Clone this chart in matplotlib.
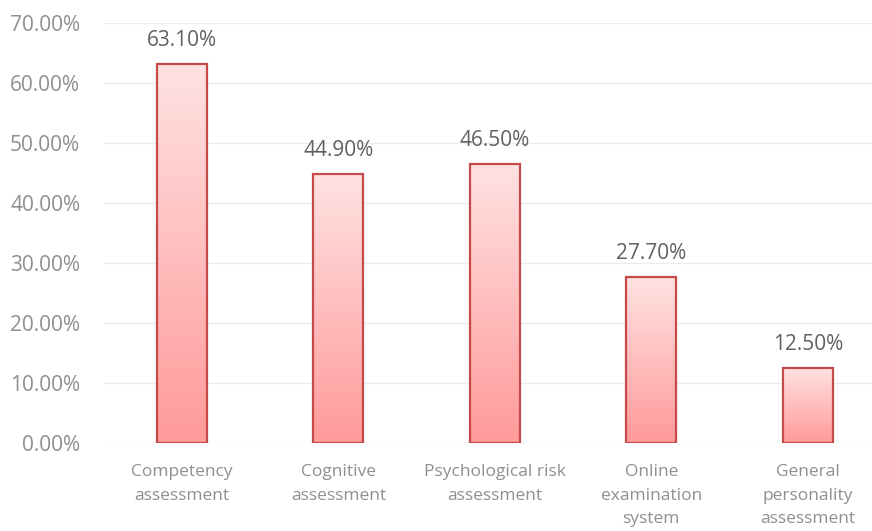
import matplotlib.pyplot as plt
import numpy as np
from matplotlib.colors import LinearSegmentedColormap

categories = ["Competency\nassessment", "Cognitive\nassessment",
              "Psychological risk\nassessment", "Online\nexamination\nsystem",
              "General\npersonality\nassessment"]
values = [63.10, 44.90, 46.50, 27.70, 12.50]
yticks = [0, 10, 20, 30, 40, 50, 60, 70]

plt.rcParams["font.family"] = ["Open Sans", "DejaVu Sans"]

fig = plt.figure(figsize=(8.72, 5.31), dpi=100)
ax = fig.add_axes([0.119, 0.1657, 0.897, 0.791])

cmap = LinearSegmentedColormap.from_list("pinkgrad", ["#ff9a9a", "#ffe2e2"])
grad = np.linspace(0, 1, 256).reshape(-1, 1)
width = 0.32
x = np.arange(len(values))

for xi, v in zip(x, values):
    ax.imshow(grad, extent=[xi - width / 2, xi + width / 2, 0, v], origin="lower",
              aspect="auto", cmap=cmap, zorder=2)
    ax.bar(xi, v, width=width, facecolor="none", edgecolor="#c64a4a",
           linewidth=1.6, zorder=3)
    ax.text(xi, v + 3.0, f"{v:.2f}%", ha="center", va="baseline",
            fontsize=15, color="#606060")

ax.set_xlim(-0.5, len(values) - 0.5)
ax.set_ylim(0, 70)
ax.set_yticks(yticks)
ax.set_yticklabels([f"{t:.2f}%" for t in yticks], fontsize=15)
ax.set_xticks(x)
ax.set_xticklabels(categories, linespacing=1.65, fontsize=12.5)
ax.tick_params(axis="both", length=0, labelcolor="#8f8f8f")
ax.tick_params(axis="x", pad=15)
ax.tick_params(axis="y", pad=17)
ax.grid(axis="y", color="#ececec", linewidth=1)
ax.set_axisbelow(True)
for s in ax.spines.values():
    s.set_visible(False)

fig.savefig("out.png", dpi=100)
